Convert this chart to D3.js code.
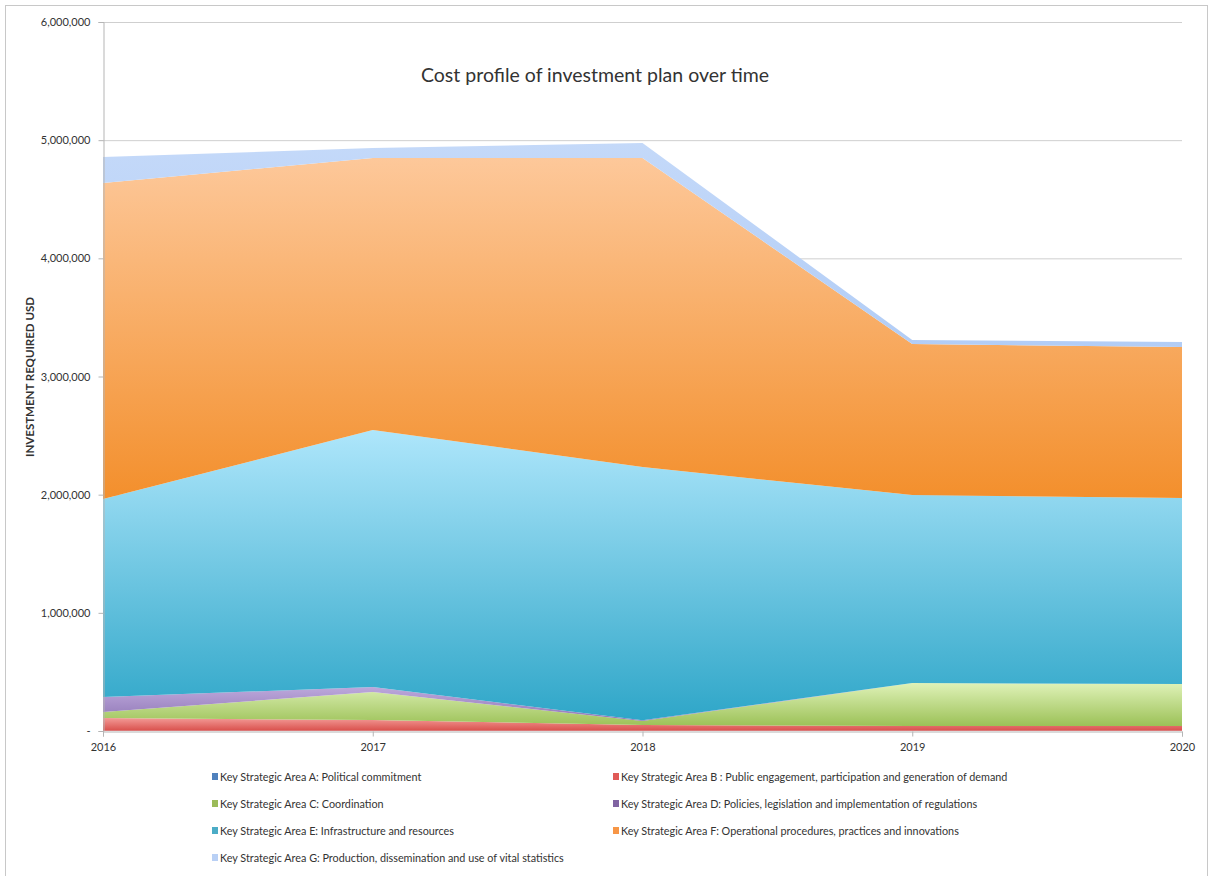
<!DOCTYPE html>
<html>
<head>
<meta charset="utf-8">
<script src="https://cdn.jsdelivr.net/npm/d3@7"></script>
<style>
  html, body { margin: 0; padding: 0; background: #fff; }
  svg { display: block; }
  text { font-family: Lato, "Open Sans", sans-serif; fill: #333; }
</style>
</head>
<body>
<svg id="chart" width="1208" height="876"></svg>
<script>
// Years on the x axis
const years = [2016, 2017, 2018, 2019, 2020];

// Investment required (USD) per key strategic area, one value per year
const areaA = [3000, 3000, 2000, 2000, 2000];
const areaB = [107000, 90000, 49000, 40000, 40000];
const areaC = [51000, 237000, 34000, 364000, 356000];
const areaD = [127000, 42000, 5000, 0, 0];
const areaE = [1675000, 2175000, 2144000, 1591000, 1574000];
const areaF = [2674000, 2302000, 2615000, 1278000, 1278000];
const areaG = [220000, 85000, 127000, 34000, 42000];

const seriesNames = [
  "Key Strategic Area A: Political commitment",
  "Key Strategic Area B : Public engagement, participation and generation of demand",
  "Key Strategic Area C: Coordination",
  "Key Strategic Area D: Policies, legislation and implementation of regulations",
  "Key Strategic Area E: Infrastructure and resources",
  "Key Strategic Area F: Operational procedures, practices and innovations",
  "Key Strategic Area G: Production, dissemination and use of vital statistics"
];
const yTicks = [0, 1000000, 2000000, 3000000, 4000000, 5000000, 6000000];

const seriesValues = [areaA, areaB, areaC, areaD, areaE, areaF, areaG];
const keys = ["A", "B", "C", "D", "E", "F", "G"];

// gradient stops per series: light at the top, saturated at the bottom
const fills = {
  A: ["#8fb0e0", "#4a7ec0"],
  B: ["#f39a96", "#d9504c"],
  C: ["#dff2b8", "#9cc157"],
  D: ["#c2aee0", "#9077b6"],
  E: ["#aee6fb", "#2ea6c8"],
  F: ["#fdc89a", "#f38f2c"],
  G: ["#c4d9f9", "#b2cdf6"]
};
const swatch = {
  A: "#4f81bd", B: "#e05a57", C: "#9bbb59", D: "#8064a2",
  E: "#4bacc6", F: "#f79646", G: "#b9d0f5"
};

const table = years.map((yr, i) => {
  const row = { year: yr };
  keys.forEach((k, j) => { row[k] = seriesValues[j][i]; });
  return row;
});

const svg = d3.select("#chart");
const margin = { left: 103, right: 1182, top: 22, bottom: 731 };

// outer frame
svg.append("rect")
  .attr("x", 5.5).attr("y", 5.5)
  .attr("width", 1202).attr("height", 872)
  .attr("fill", "none").attr("stroke", "#c8c8c8");

const x = d3.scalePoint().domain(years).range([margin.left, margin.right]);
const y = d3.scaleLinear().domain([0, 6000000]).range([margin.bottom, margin.top]);

const defs = svg.append("defs");
keys.forEach(k => {
  const g = defs.append("linearGradient")
    .attr("id", "grad" + k)
    .attr("x1", 0).attr("y1", 0).attr("x2", 0).attr("y2", 1);
  g.append("stop").attr("offset", "0%").attr("stop-color", fills[k][0]);
  g.append("stop").attr("offset", "100%").attr("stop-color", fills[k][1]);
});

// gridlines
svg.append("g")
  .selectAll("line")
  .data(yTicks.filter(d => d > 0))
  .join("line")
  .attr("x1", margin.left).attr("x2", margin.right)
  .attr("y1", d => y(d) + 0.5).attr("y2", d => y(d) + 0.5)
  .attr("stroke", "#cfcfcf").attr("stroke-width", 1);

// stacked areas
const stack = d3.stack().keys(keys);
const layers = stack(table);
const area = d3.area()
  .x(d => x(d.data.year))
  .y0(d => y(d[0]))
  .y1(d => y(d[1]))
  .curve(d3.curveLinear);

svg.append("g")
  .selectAll("path")
  .data(layers)
  .join("path")
  .attr("d", area)
  .attr("fill", d => `url(#grad${d.key})`);

// y axis
const yAxis = d3.axisLeft(y)
  .tickValues(yTicks)
  .tickSize(5)
  .tickPadding(8)
  .tickFormat(d => d === 0 ? "-" : d3.format(",")(d));
const gy = svg.append("g")
  .attr("transform", `translate(${margin.left + 0.5},0)`)
  .call(yAxis);
gy.select(".domain").attr("stroke", "#b5b5b5");
gy.selectAll(".tick line").attr("stroke", "#b5b5b5");
gy.selectAll(".tick text")
  .attr("font-size", 11)
  .attr("font-family", "Lato, sans-serif")
  .attr("fill", "#333");

// x axis
const xAxis = d3.axisBottom(x).tickSize(5).tickPadding(7).tickFormat(d3.format("d"));
const gx = svg.append("g")
  .attr("transform", `translate(0,${margin.bottom + 0.5})`)
  .call(xAxis);
gx.select(".domain").attr("stroke", "#b5b5b5");
gx.selectAll(".tick line").attr("stroke", "#b5b5b5");
gx.selectAll(".tick text")
  .attr("font-size", 11)
  .attr("font-family", "Lato, sans-serif")
  .attr("fill", "#333");

// title
svg.append("text")
  .attr("x", 595).attr("y", 82)
  .attr("text-anchor", "middle")
  .attr("font-size", 19.5)
  .attr("fill", "#111")
  .text("Cost profile of investment plan over time");

// y axis title
svg.append("text")
  .attr("transform", "translate(34,377) rotate(-90)")
  .attr("text-anchor", "middle")
  .attr("font-size", 11.5)
  .attr("font-weight", "bold")
  .attr("fill", "#111")
  .text("INVESTMENT REQUIRED USD");

// legend, two columns, row-major order
const legend = svg.append("g");
const items = legend.selectAll("g")
  .data(keys.map((k, i) => ({ key: k, name: seriesNames[i], i })))
  .join("g")
  .attr("transform", d => `translate(${d.i % 2 === 0 ? 212 : 613},${777 + Math.floor(d.i / 2) * 27})`);
items.append("rect")
  .attr("x", 0).attr("y", -4)
  .attr("width", 6).attr("height", 7)
  .attr("fill", d => swatch[d.key]);
items.append("text")
  .attr("x", 8).attr("y", 4)
  .attr("font-size", 10.8)
  .attr("fill", "#333")
  .text(d => d.name);
</script>
</body>
</html>
